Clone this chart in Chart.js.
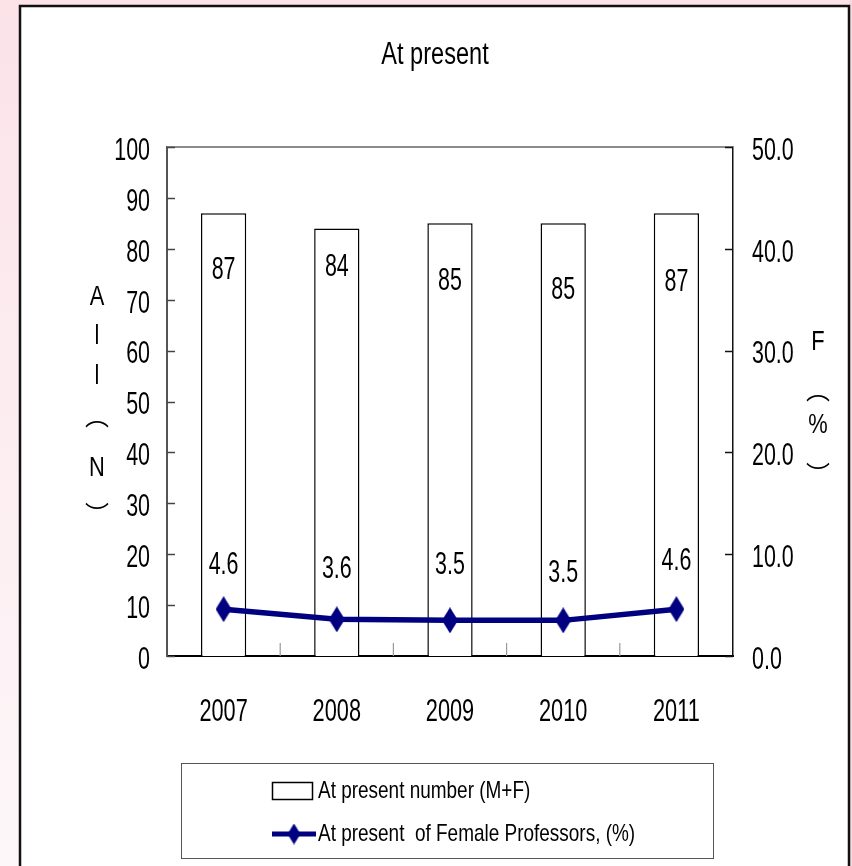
<!DOCTYPE html>
<html>
<head>
<meta charset="utf-8">
<script src="https://cdn.jsdelivr.net/npm/chart.js@4.4.1/dist/chart.umd.min.js"></script>
<style>
  html, body { margin: 0; padding: 0; background: #fbe4e9; }
  #wrap { width: 852px; height: 866px; }
</style>
</head>
<body>
<div id="wrap"><canvas id="c" width="852" height="866"></canvas></div>
<script>
// ---- data ----
const years = ['2007', '2008', '2009', '2010', '2011'];
const totalNumber = [87, 84, 85, 85, 87];
const femalePercent = [4.6, 3.6, 3.5, 3.5, 4.6];
const leftTicks = [0, 10, 20, 30, 40, 50, 60, 70, 80, 90, 100];
const rightTicks = [0, 10, 20, 30, 40, 50];
const chartTitle = 'At present';
const barLabel = 'At present number (M+F)';
const lineLabel = 'At present  of Female Professors, (%)';
const leftAxisTitle = ['A', 'l', 'l', '︵', 'N', '︶'];
const rightAxisTitle = ['F', '︵', '%', '︶'];

// ---- style / layout (not data) ----
const NAVY = '#000080';
const FONT = '"Liberation Sans", Arial, sans-serif';
const CJK = '"Noto Sans CJK JP", "Noto Sans CJK SC", sans-serif';
const barLabelDy = [57, 39, 58, 67, 69];
const lineLabelDy = [-44, -50, -55, -47, -48];
const leftTitleY = [297, 336, 376, 416, 468, 514];
const rightTitleY = [342, 390, 425, 474];

function txt(ctx, s, x, y, size, sx, align, family) {
  ctx.save();
  ctx.translate(x, y);
  ctx.scale(sx, 1);
  ctx.font = size + 'px ' + (family || FONT);
  ctx.textAlign = align || 'center';
  ctx.textBaseline = 'middle';
  ctx.fillStyle = '#000';
  ctx.fillText(s, 0, 0);
  ctx.restore();
}

function diamondImage(w, h) {
  const c = document.createElement('canvas');
  c.width = w; c.height = h;
  const g = c.getContext('2d');
  g.fillStyle = NAVY;
  g.beginPath();
  g.moveTo(w / 2, 0); g.lineTo(w, h / 2); g.lineTo(w / 2, h); g.lineTo(0, h / 2);
  g.closePath(); g.fill();
  return c;
}
const diamond = diamondImage(16, 26);
const legendDiamond = diamondImage(13, 21);

const backgroundPlugin = {
  id: 'bg',
  beforeDraw(chart) {
    const ctx = chart.ctx;
    ctx.save();
    const gr = ctx.createLinearGradient(0, 0, 0, 866);
    gr.addColorStop(0, '#fbe3e8');
    gr.addColorStop(1, '#fdf7f9');
    ctx.fillStyle = gr;
    ctx.fillRect(0, 0, 852, 866);
    ctx.fillStyle = '#f8dbe2';
    ctx.fillRect(849, 0, 3, 866);
    ctx.fillStyle = '#ffffff';
    ctx.fillRect(20, 6, 829, 870);
    ctx.strokeStyle = '#111';
    ctx.lineWidth = 2.5;
    ctx.beginPath();
    ctx.moveTo(20, 880); ctx.lineTo(20, 6); ctx.lineTo(849, 6); ctx.lineTo(849, 880);
    ctx.stroke();
    ctx.restore();
  }
};

function drawVerticalTitle(ctx, chars, x, ys) {
  chars.forEach((ch, i) => {
    if (ch === '︵' || ch === '︶') {
      txt(ctx, ch, x, ys[i], 24, 1, 'center', CJK);
    } else {
      txt(ctx, ch, x, ys[i], 28, 0.78, 'center');
    }
  });
}

const decorPlugin = {
  id: 'decor',
  afterDatasetsDraw(chart) {
    const ctx = chart.ctx;
    const a = chart.chartArea;
    const x = chart.scales.x, y = chart.scales.y, y2 = chart.scales.y2;
    ctx.save();
    ctx.strokeStyle = '#8c8c8c';
    ctx.lineWidth = 2;
    ctx.beginPath(); ctx.moveTo(a.left, a.top); ctx.lineTo(a.right, a.top); ctx.stroke();
    ctx.strokeStyle = '#444';
    ctx.lineWidth = 1.5;
    leftTicks.forEach(v => {
      const py = Math.round(y.getPixelForValue(v)) + 0.5;
      ctx.beginPath(); ctx.moveTo(a.left, py); ctx.lineTo(a.left + 8, py); ctx.stroke();
    });
    ctx.strokeStyle = '#111';
    rightTicks.forEach(v => {
      const py = Math.round(y2.getPixelForValue(v)) + 0.5;
      ctx.beginPath(); ctx.moveTo(a.right, py); ctx.lineTo(a.right - 8, py); ctx.stroke();
    });
    ctx.strokeStyle = '#999';
    ctx.lineWidth = 1.2;
    for (let i = 1; i < years.length; i++) {
      const px = (x.getPixelForValue(i - 1) + x.getPixelForValue(i)) / 2;
      ctx.beginPath(); ctx.moveTo(px, a.bottom); ctx.lineTo(px, a.bottom - 13); ctx.stroke();
    }
    ctx.restore();
  },
  afterDraw(chart) {
    const ctx = chart.ctx;
    const x = chart.scales.x, y = chart.scales.y, y2 = chart.scales.y2;
    leftTicks.forEach(v => txt(ctx, String(v), 150, y.getPixelForValue(v) + 4, 32, 0.67, 'right'));
    rightTicks.forEach(v => txt(ctx, v.toFixed(1), 752, y2.getPixelForValue(v) + 4, 32, 0.67, 'left'));
    years.forEach((yr, i) => txt(ctx, yr, x.getPixelForValue(i), 712, 32, 0.68, 'center'));
    const barMeta = chart.getDatasetMeta(0);
    barMeta.data.forEach((el, i) => txt(ctx, String(totalNumber[i]), el.x, el.y + barLabelDy[i], 32, 0.67, 'center'));
    const lineMeta = chart.getDatasetMeta(1);
    lineMeta.data.forEach((el, i) => txt(ctx, femalePercent[i].toFixed(1), el.x, el.y + lineLabelDy[i], 32, 0.67, 'center'));
    txt(ctx, chartTitle, 435, 55, 31, 0.76, 'center');
    drawVerticalTitle(ctx, leftAxisTitle, 97, leftTitleY);
    drawVerticalTitle(ctx, rightAxisTitle, 818, rightTitleY);
    ctx.save();
    ctx.fillStyle = '#fff';
    ctx.fillRect(181, 763, 532, 95);
    ctx.strokeStyle = '#555';
    ctx.lineWidth = 1;
    ctx.strokeRect(181.5, 763.5, 532, 95);
    ctx.strokeStyle = '#000';
    ctx.lineWidth = 1.5;
    ctx.strokeRect(272.5, 782.5, 40, 17);
    ctx.strokeStyle = NAVY;
    ctx.lineWidth = 5;
    ctx.beginPath(); ctx.moveTo(272, 834); ctx.lineTo(316, 834); ctx.stroke();
    ctx.drawImage(legendDiamond, 294 - 6.5, 834 - 10.5);
    ctx.restore();
    const ds = chart.data.datasets;
    txt(ctx, ds[0].label, 318, 791, 24, 0.79, 'left');
    txt(ctx, ds[1].label, 318, 834, 24, 0.79, 'left');
  }
};

new Chart(document.getElementById('c'), {
  type: 'bar',
  data: {
    labels: years,
    datasets: [
      {
        type: 'bar',
        label: barLabel,
        data: totalNumber,
        backgroundColor: '#ffffff',
        borderColor: '#000000',
        borderWidth: 1.5,
        borderSkipped: 'bottom',
        barPercentage: 0.4,
        categoryPercentage: 1.0,
        yAxisID: 'y',
        order: 2
      },
      {
        type: 'line',
        label: lineLabel,
        data: femalePercent,
        borderColor: NAVY,
        backgroundColor: NAVY,
        borderWidth: 5.5,
        pointStyle: diamond,
        pointRadius: 10,
        tension: 0,
        fill: false,
        yAxisID: 'y2',
        order: 1
      }
    ]
  },
  options: {
    responsive: false,
    animation: false,
    events: [],
    layout: { padding: { top: 147, left: 0, right: 0, bottom: 0 } },
    plugins: {
      legend: { display: false },
      title: { display: false },
      tooltip: { enabled: false }
    },
    scales: {
      x: {
        grid: { display: false },
        border: { display: true, color: '#000', width: 2 },
        ticks: { display: false },
        afterFit(s) { s.height = 210; }
      },
      y: {
        position: 'left',
        min: 0, max: 100,
        ticks: { display: false, stepSize: 10 },
        grid: { display: false },
        border: { display: true, color: '#555', width: 2 },
        afterFit(s) { s.width = 167; }
      },
      y2: {
        position: 'right',
        min: 0, max: 50,
        ticks: { display: false, stepSize: 10 },
        grid: { display: false },
        border: { display: true, color: '#111', width: 1.5 },
        afterFit(s) { s.width = 119; }
      }
    }
  },
  plugins: [backgroundPlugin, decorPlugin]
});
</script>
</body>
</html>
